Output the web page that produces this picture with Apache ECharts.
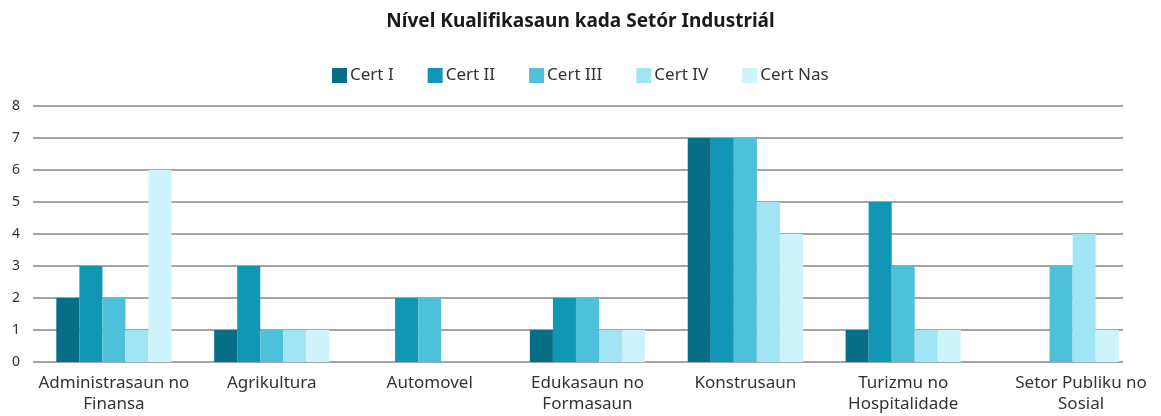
<!DOCTYPE html>
<html>
<head>
<meta charset="utf-8">
<script src="https://cdn.jsdelivr.net/npm/echarts@6/dist/echarts.min.js"></script>
<style>
  html, body { margin: 0; padding: 0; background: #fff; }
  #chart { width: 1161px; height: 416px; }
</style>
</head>
<body>
<div id="chart"></div>
<script>
const categories = ['Administrasaun no\nFinansa', 'Agrikultura', 'Automovel', 'Edukasaun no\nFormasaun', 'Konstrusaun', 'Turizmu no\nHospitalidade', 'Setor Publiku no\nSosial']
const seriesNames = ['Cert I', 'Cert II', 'Cert III', 'Cert IV', 'Cert Nas']
const certI = [2, 1, 0, 1, 7, 1, 0]
const certII = [3, 3, 2, 2, 7, 5, 0]
const certIII = [2, 1, 2, 2, 7, 3, 3]
const certIV = [1, 1, 0, 1, 5, 1, 4]
const certNas = [6, 1, 0, 1, 4, 1, 1]
const colors = ['#066e86', '#1196b5', '#4ec1d9', '#a1e4f4', '#cff3fb']

const font = "'Noto Sans', sans-serif"
const values = [certI, certII, certIII, certIV, certNas]

// last label sits a bit to the right in the original
const xLabels = categories.map((c, i) => i === categories.length - 1
  ? {value: c, textStyle: {padding: [0, 0, 0, 40]}}
  : c)

const chart = echarts.init(document.getElementById('chart'))
const option = {
  animation: false,
  title: {
    text: 'Nível Kualifikasaun kada Setór Industriál',
    left: 'center',
    top: 7,
    textStyle: { fontFamily: font, fontSize: 19, fontWeight: 'bold', color: '#1a1a1a' }
  },
  legend: {
    top: 62,
    left: 327,
    itemWidth: 15,
    itemHeight: 15,
    itemGap: 34,
    icon: 'rect',
    textStyle: { fontFamily: font, fontSize: 17, color: '#333', padding: [0, 0, 0, -2] },
    data: seriesNames
  },
  grid: [
    { left: 33, right: 38, top: 106, bottom: 54 },
    { left: 35, right: 21, top: 106, bottom: 54 }
  ],
  xAxis: [
    { type: 'category', gridIndex: 0, data: categories, show: false },
    {
      type: 'category',
      gridIndex: 1,
      data: xLabels,
      axisLine: { show: false },
      axisTick: { show: false },
      axisLabel: { interval: 0, fontFamily: font, fontSize: 17, color: '#333', lineHeight: 21, margin: 11 }
    }
  ],
  yAxis: [
    {
      type: 'value',
      gridIndex: 0,
      min: 0,
      max: 8,
      interval: 1,
      axisLabel: { fontFamily: font, fontSize: 14, color: '#333', margin: 13 },
      splitLine: { lineStyle: { color: '#878787', width: 1.5 } }
    },
    {
      type: 'value',
      gridIndex: 1,
      min: 0,
      max: 8,
      interval: 1,
      axisLabel: { show: false },
      splitLine: { show: false }
    }
  ],
  series: seriesNames.map((name, i) => ({
    name: name,
    type: 'bar',
    xAxisIndex: 1,
    yAxisIndex: 1,
    data: values[i],
    barGap: 0,
    barCategoryGap: '27%',
    itemStyle: { color: colors[i] }
  }))
}
chart.setOption(option)
</script>
</body>
</html>
